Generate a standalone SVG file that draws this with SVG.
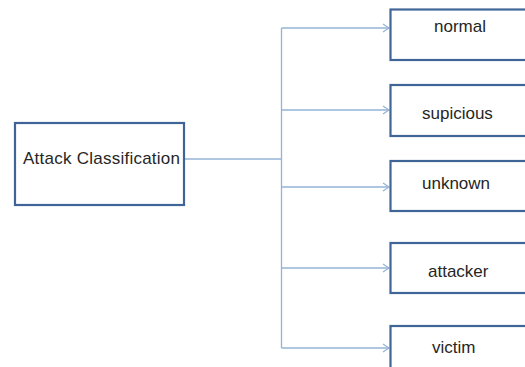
<svg xmlns="http://www.w3.org/2000/svg" width="525" height="367" viewBox="0 0 525 367">
<defs>
<style>
.box{fill:#fff;stroke:#3f6597;stroke-width:2.2}
.con{fill:none;stroke:#95b3d7;stroke-width:1.3}
.t{font-family:"Liberation Sans",Arial,sans-serif;font-size:17px;fill:#262626}
</style>
<marker id="arr" markerWidth="10" markerHeight="10" refX="9" refY="5" orient="auto" markerUnits="userSpaceOnUse">
<path d="M3,1 L9,5 L3,9" fill="none" stroke="#95b3d7" stroke-width="1.3"/>
</marker>
</defs>
<rect width="525" height="367" fill="#fff"/>
<g id="connectors">
<path class="con" d="M184,159 H281.5"/>
<path class="con" d="M281.5,28 V348"/>
<path class="con" d="M281.5,28 H389" marker-end="url(#arr)"/>
<path class="con" d="M281.5,110 H389" marker-end="url(#arr)"/>
<path class="con" d="M281.5,187 H389" marker-end="url(#arr)"/>
<path class="con" d="M281.5,268 H389" marker-end="url(#arr)"/>
<path class="con" d="M281.5,348 H389" marker-end="url(#arr)"/>
</g>
<g id="attack-classification">
<rect class="box" x="15" y="123" width="169" height="82"/>
<text class="t" x="23" y="164" textLength="157">Attack Classification</text>
</g>
<g id="normal">
<rect class="box" x="390.5" y="9.5" width="150" height="50.5"/>
<text class="t" x="434" y="32">normal</text>
</g>
<g id="supicious">
<rect class="box" x="390.5" y="85" width="150" height="51"/>
<text class="t" x="422" y="119">supicious</text>
</g>
<g id="unknown">
<rect class="box" x="390.5" y="161" width="150" height="50"/>
<text class="t" x="422" y="189">unknown</text>
</g>
<g id="attacker">
<rect class="box" x="390.5" y="243" width="150" height="50"/>
<text class="t" x="428" y="277">attacker</text>
</g>
<g id="victim">
<rect class="box" x="390.5" y="326" width="150" height="60"/>
<text class="t" x="432" y="353">victim</text>
</g>
</svg>
